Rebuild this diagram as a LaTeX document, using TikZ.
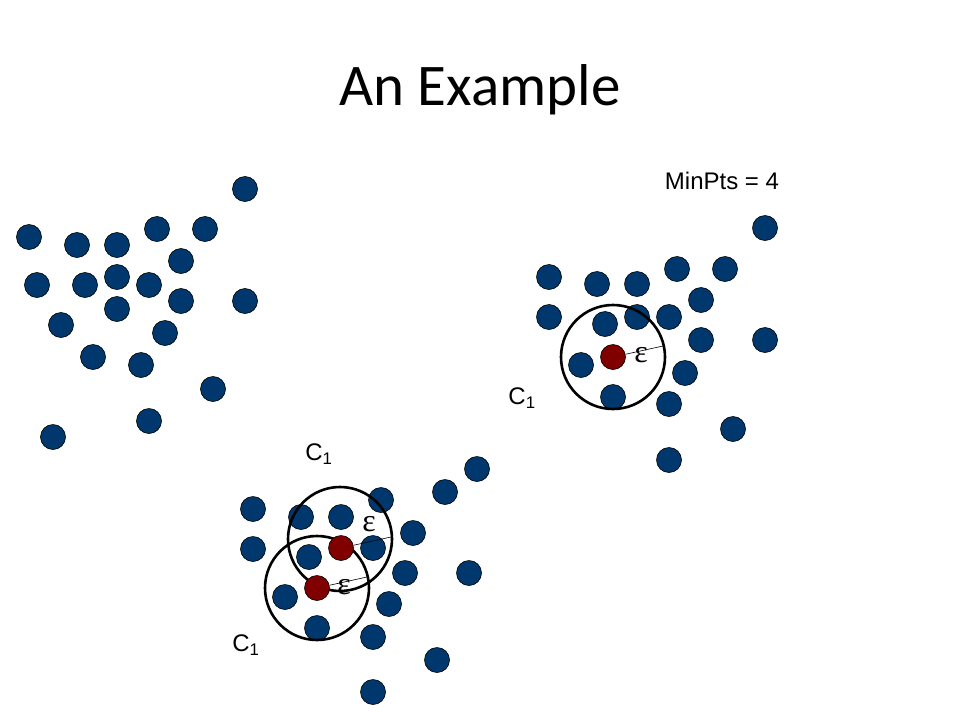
\documentclass[tikz,border=0pt]{standalone}
\usepackage{fontspec}
\setmainfont{Liberation Sans}
\newfontfamily\titlefont{Carlito}
\newfontfamily\greekfont{Liberation Serif}
\usepackage{tikz}
\usetikzlibrary{calc}
\definecolor{ptblue}{RGB}{0,56,110}
\definecolor{ptred}{RGB}{128,0,0}

\begin{document}
\begin{tikzpicture}[x=1pt,y=-1pt,
    pt/.style={circle,draw=black,line width=0.6pt,fill=ptblue,minimum size=25pt,inner sep=0pt},
    core/.style={pt,fill=ptred},
    ring/.style={circle,draw=black,line width=2.6pt,minimum size=104pt,inner sep=0pt},
    lbl/.style={font=\fontsize{24}{28}\selectfont,inner sep=0pt},
    eps/.style={font=\greekfont\fontsize{32}{34}\selectfont,inner sep=0pt}]
\useasboundingbox (0,0) rectangle (960,720);
\node[font=\titlefont\fontsize{59}{64}\selectfont] (title) at (480,90) {An Example};
\node[lbl] (minpts) at (722,181) {MinPts = 4};
% left cluster
\foreach \x/\y [count=\i] in {245/189,29/237,77/245,117/245,157/229,205/229,181/261,37/285,85/285,117/277,
    149/285,181/301,245/301,117/309,61/325,165/333,93/357,141/365,213/389,149/421,53/437}
  \node[pt] (l\i) at (\x,\y) {};
% right cluster
\foreach \x/\y [count=\i] in {765/228,549/277,597/284,637/284,677/269,725/269,701/300,549/317,605/324,637/317,
    669/317,701/340,765/340,581/365,685/373,613/397,669/404,733/429,669/460}
  \node[pt] (r\i) at (\x,\y) {};
\node[ring] (rring) at (613,357) {};
\node[core] (rc) at (613,357) {};
\coordinate (re) at (663,346);
\draw[line width=0.6pt] (rc) -- (re);
\node[eps] (reps) at (641,355) {ε};
\node[lbl] (rlab) at (522,398) {C\textsubscript{1}};
% bottom cluster
\foreach \x/\y [count=\i] in {477/469,445/492,253/509,301/517,341/517,381/500,413/533,253/549,309/557,373/548,
    405/573,469/573,285/597,389/604,317/628,373/637,437/660,373/692}
  \node[pt] (b\i) at (\x,\y) {};
\node[ring] (bring1) at (340,539) {};
\node[ring] (bring2) at (317,588) {};
\node[core] (bc1) at (341,548) {};
\node[core] (bc2) at (317,588) {};
\coordinate (be1) at (391,537);
\coordinate (be2) at (367,577);
\draw[line width=0.6pt] (bc1) -- (be1);
\draw[line width=0.6pt] (bc2) -- (be2);
\node[eps] (beps1) at (369,524) {ε};
\node[eps] (beps2) at (344,587) {ε};
\node[lbl] (blab1) at (319,454) {C\textsubscript{1}};
\node[lbl] (blab2) at (246,645) {C\textsubscript{1}};
\end{tikzpicture}
\end{document}
